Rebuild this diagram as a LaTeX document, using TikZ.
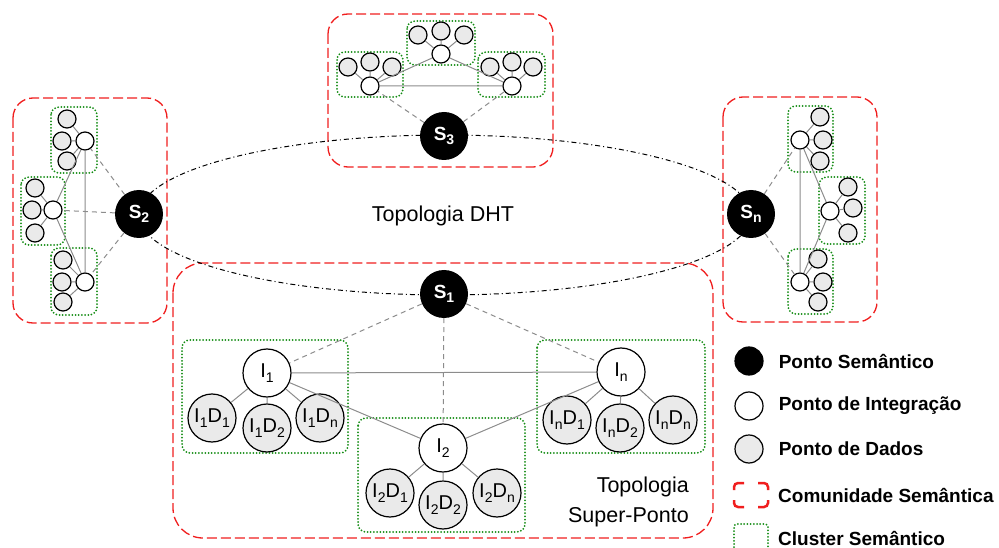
\documentclass[tikz,border=0pt]{standalone}
\usepackage{fontspec}
\setmainfont{Liberation Sans}
\usepackage{xcolor}
\usetikzlibrary{positioning}
\definecolor{comred}{RGB}{240,30,30}
\definecolor{clugreen}{RGB}{20,140,20}
\definecolor{lngray}{RGB}{140,140,140}
\definecolor{dpgray}{RGB}{234,234,234}
\newcommand{\ix}[1]{\raisebox{-0.45ex}{\fontsize{14}{14}\selectfont #1}}
\tikzstyle{sem}=[circle, fill=black, minimum size=48pt, inner sep=0,
		text=white, font=\fontsize{19}{19}\selectfont\bfseries]
\tikzstyle{integ}=[circle, draw, fill=white, line width=1.2pt, minimum size=48pt,
		inner sep=0, font=\fontsize{20}{20}\selectfont]
\tikzstyle{dado}=[integ, fill=dpgray]
\tikzstyle{sinteg}=[circle, draw, fill=white, line width=1.2pt, minimum size=18pt, inner sep=0]
\tikzstyle{sdado}=[sinteg, fill=dpgray]
\tikzstyle{com}=[draw=comred, line width=1.3pt, dash pattern=on 10pt off 4pt, rounded corners=20pt]
\tikzstyle{clu}=[draw=clugreen, line width=2pt, dash pattern=on 0pt off 3.2pt,
		line cap=round, rounded corners=8pt]
\tikzstyle{ln}=[draw=lngray, line width=1pt]
\tikzstyle{dln}=[draw=lngray, line width=1pt, dash pattern=on 5pt off 4pt]
\tikzstyle{dht}=[draw=black, line width=1pt, dash pattern=on 5pt off 3pt on 1pt off 3pt]
\tikzstyle{leg}=[font=\fontsize{19}{19}\selectfont\bfseries, inner sep=0, anchor=west]
\tikzstyle{lgsym}=[circle, draw, line width=1.2pt, minimum size=28pt, inner sep=0]
\begin{document}
\begin{tikzpicture}[x=1pt,y=-1pt]
    \useasboundingbox (0,0) rectangle (999,548);
    % comunidades semanticas
    \draw[com] (328,14) rectangle (553,167);
    \draw[com] (13,98) rectangle (167,323);
    \draw[com] (723,97) rectangle (877,322);
    \draw[com, rounded corners=30pt] (173,263) rectangle (713,538);
    % topologia DHT
    \draw[dht] (445,215) ellipse [x radius=306, y radius=80];
    % clusters
    \draw[clu] (407,21) rectangle (475,65);
    \draw[clu] (337,52) rectangle (403,97);
    \draw[clu] (478,52) rectangle (545,97);
    \draw[clu] (51,107) rectangle (97,173);
    \draw[clu] (21,177) rectangle (65,245);
    \draw[clu] (51,248) rectangle (97,315);
    \draw[clu] (788,106) rectangle (833,172);
    \draw[clu] (819,177) rectangle (865,244);
    \draw[clu] (788,249) rectangle (833,314);
    \draw[clu] (182,340) rectangle (348,453);
    \draw[clu] (358,418) rectangle (525,532);
    \draw[clu] (537,340) rectangle (705,453);

    % pontos semanticos
    \node[sem] (s1) at (444,294) {S\ix{1}};
    \node[sem] (s2) at (139,214) {S\ix{2}};
    \node[sem] (s3) at (444,136) {S\ix{3}};
    \node[sem] (sn) at (751,214) {S\ix{n}};

    % S3
    \node[sinteg] (tmi) at (441,54) {};
    \node[sdado] (tmd1) at (418,35) {};
    \node[sdado] (tmd2) at (441,31) {};
    \node[sdado] (tmd3) at (464,35) {};
    \node[sinteg] (tli) at (370,86) {};
    \node[sdado] (tld1) at (348,67) {};
    \node[sdado] (tld2) at (370,62) {};
    \node[sdado] (tld3) at (392,67) {};
    \node[sinteg] (tri) at (512,86) {};
    \node[sdado] (trd1) at (490,67) {};
    \node[sdado] (trd2) at (512,62) {};
    \node[sdado] (trd3) at (533,67) {};
    \draw[ln] (tmi) -- (tmd1) (tmi) -- (tmd2) (tmi) -- (tmd3);
    \draw[ln] (tli) -- (tld1) (tli) -- (tld2) (tli) -- (tld3);
    \draw[ln] (tri) -- (trd1) (tri) -- (trd2) (tri) -- (trd3);
    \draw[ln] (tli) -- (tmi) -- (tri) -- (tli);
    \draw[dln] (s3) -- (tli) (s3) -- (tri);

    % S2
    \node[sinteg] (lai) at (85,141) {};
    \node[sdado] (lad1) at (67,119) {};
    \node[sdado] (lad2) at (62,141) {};
    \node[sdado] (lad3) at (67,161) {};
    \node[sinteg] (lbi) at (53,210) {};
    \node[sdado] (lbd1) at (35,188) {};
    \node[sdado] (lbd2) at (32,210) {};
    \node[sdado] (lbd3) at (35,233) {};
    \node[sinteg] (lci) at (85,282) {};
    \node[sdado] (lcd1) at (63,260) {};
    \node[sdado] (lcd2) at (62,282) {};
    \node[sdado] (lcd3) at (63,302) {};
    \draw[ln] (lai) -- (lad1) (lai) -- (lad2) (lai) -- (lad3);
    \draw[ln] (lbi) -- (lbd1) (lbi) -- (lbd2) (lbi) -- (lbd3);
    \draw[ln] (lci) -- (lcd1) (lci) -- (lcd2) (lci) -- (lcd3);
    \draw[ln] (lai) -- (lbi) -- (lci) -- (lai);
    \draw[dln] (s2) -- (lai) (s2) -- (lbi) (s2) -- (lci);

    % Sn
    \node[sinteg] (rai) at (800,140) {};
    \node[sdado] (rad1) at (820,117) {};
    \node[sdado] (rad2) at (823,140) {};
    \node[sdado] (rad3) at (820,161) {};
    \node[sinteg] (rbi) at (830,211) {};
    \node[sdado] (rbd1) at (848,187) {};
    \node[sdado] (rbd2) at (853,208) {};
    \node[sdado] (rbd3) at (848,233) {};
    \node[sinteg] (rci) at (800,282) {};
    \node[sdado] (rcd1) at (818,259) {};
    \node[sdado] (rcd2) at (823,282) {};
    \node[sdado] (rcd3) at (818,302) {};
    \draw[ln] (rai) -- (rad1) (rai) -- (rad2) (rai) -- (rad3);
    \draw[ln] (rbi) -- (rbd1) (rbi) -- (rbd2) (rbi) -- (rbd3);
    \draw[ln] (rci) -- (rcd1) (rci) -- (rcd2) (rci) -- (rcd3);
    \draw[ln] (rai) -- (rbi) -- (rci) -- (rai);
    \draw[dln] (sn) -- (rai) (sn) -- (rci);

    % S1 (super-ponto)
    \node[integ] (i1) at (267,373) {I\ix{1}};
    \node[dado] (i1d1) at (212,418) {I\ix{1}D\ix{1}};
    \node[dado] (i1d2) at (267,428) {I\ix{1}D\ix{2}};
    \node[dado] (i1dn) at (320,418) {I\ix{1}D\ix{n}};
    \node[integ] (i2) at (443,448) {I\ix{2}};
    \node[dado] (i2d1) at (390,493) {I\ix{2}D\ix{1}};
    \node[dado] (i2d2) at (443,505) {I\ix{2}D\ix{2}};
    \node[dado] (i2dn) at (497,493) {I\ix{2}D\ix{n}};
    \node[integ] (in) at (621,372) {I\ix{n}};
    \node[dado] (ind1) at (567,420) {I\ix{n}D\ix{1}};
    \node[dado] (ind2) at (620,428) {I\ix{n}D\ix{2}};
    \node[dado] (indn) at (673,420) {I\ix{n}D\ix{n}};
    \draw[ln] (i1) -- (i1d1) (i1) -- (i1d2) (i1) -- (i1dn);
    \draw[ln] (i2) -- (i2d1) (i2) -- (i2d2) (i2) -- (i2dn);
    \draw[ln] (in) -- (ind1) (in) -- (ind2) (in) -- (indn);
    \draw[ln] (i1) -- (in) -- (i2) -- (i1);
    \draw[dln] (s1) -- (i1) (s1) -- (i2) (s1) -- (in);

    % textos
    \node[font=\fontsize{21.5}{26}\selectfont] (tdht) at (443,216) {Topologia DHT};
    \node[font=\fontsize{21.5}{30}\selectfont, align=right, anchor=east, inner sep=0]
        (tsp) at (689,502) {Topologia\\Super-Ponto};

    % legenda
    \node[lgsym, fill=black] (lsem) at (749,361) {};
    \node[lgsym, fill=white] (linteg) at (749,406) {};
    \node[lgsym, fill=dpgray] (ldado) at (749,449) {};
    \draw[draw=comred, line width=2.5pt, rounded corners=4pt]
        (734,490) -- (734,483) -- (744,483)
        (758,483) -- (768,483) -- (768,490)
        (768,500) -- (768,507) -- (758,507)
        (744,507) -- (734,507) -- (734,500);
    \draw[clu, rounded corners=3pt] (734,560) -- (734,524) -- (768,524) -- (768,560);
    \coordinate (lcom) at (768,495);
    \coordinate (lclu) at (768,538);
    \node[leg, right=15pt of lsem] {Ponto Semântico};
    \node[leg, right=15pt of linteg] {Ponto de Integração};
    \node[leg, right=15pt of ldado] {Ponto de Dados};
    \node[leg, right=10pt of lcom] {Comunidade Semântica};
    \node[leg, right=10pt of lclu] {Cluster Semântico};
\end{tikzpicture}
\end{document}
